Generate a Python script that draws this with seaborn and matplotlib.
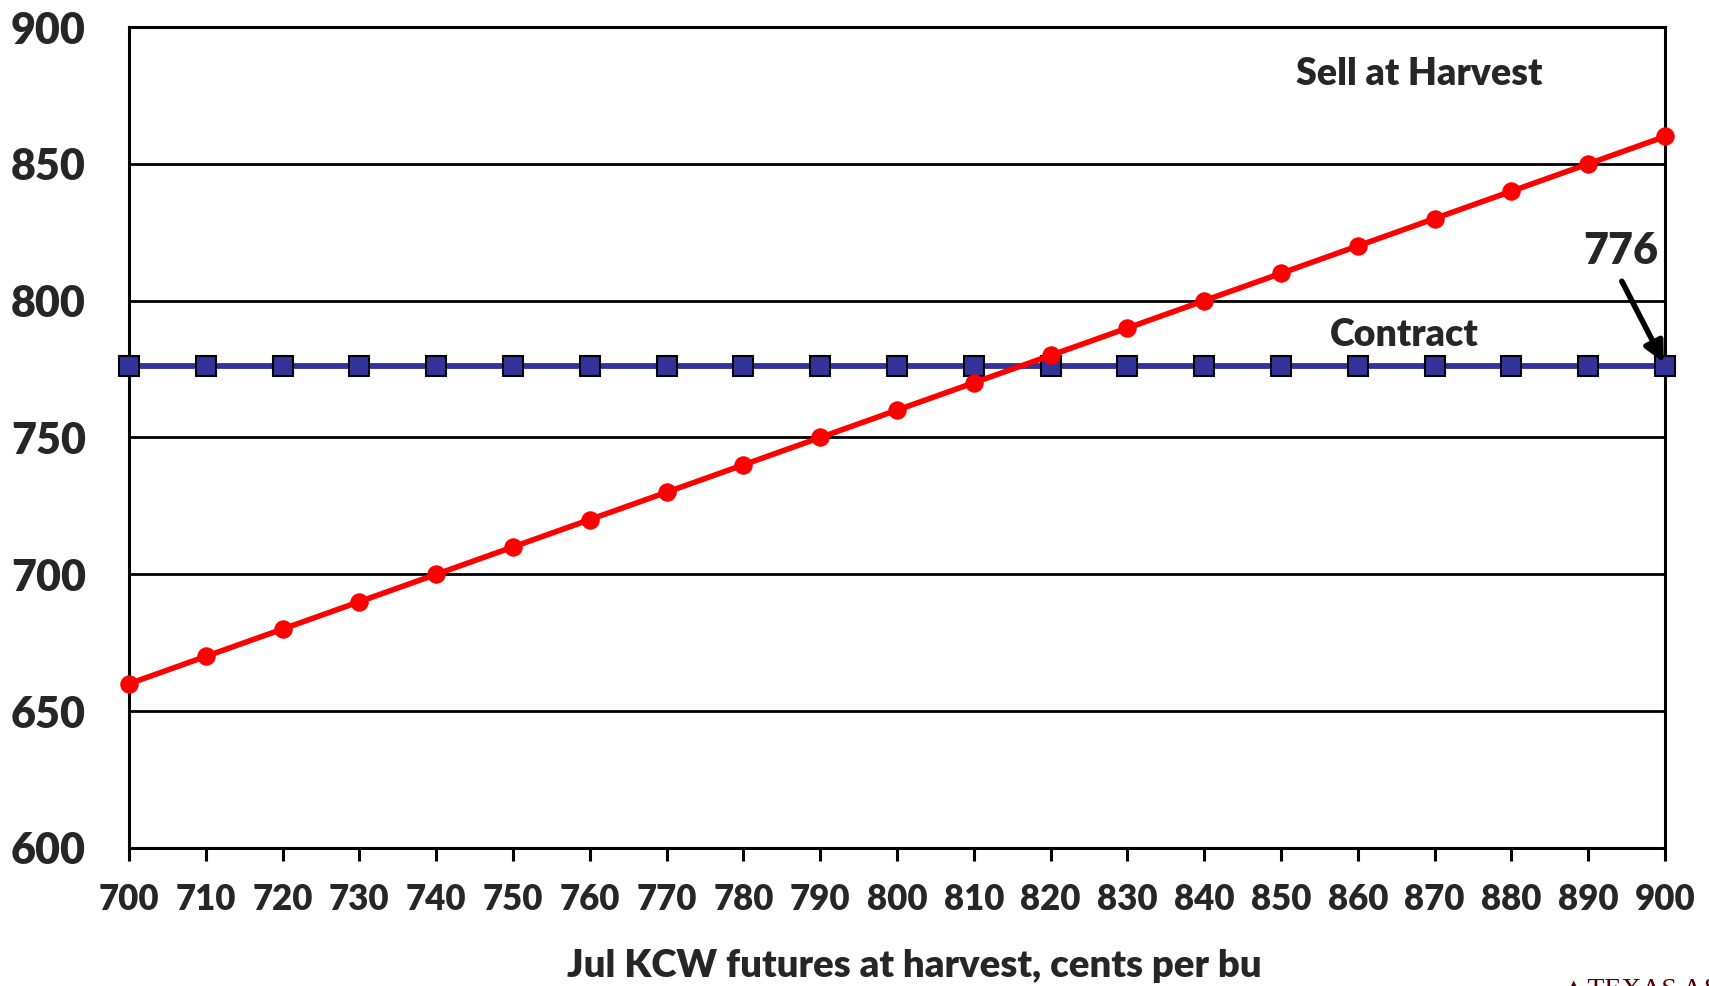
import pandas as pd
import matplotlib.pyplot as plt
import seaborn as sns

# Values
futures = [700, 710, 720, 730, 740, 750, 760, 770, 780, 790, 800,
           810, 820, 830, 840, 850, 860, 870, 880, 890, 900]
sell_at_harvest = [660, 670, 680, 690, 700, 710, 720, 730, 740, 750, 760,
                   770, 780, 790, 800, 810, 820, 830, 840, 850, 860]
contract = [776] * len(futures)

data = pd.DataFrame({'futures': futures, 'harvest': sell_at_harvest, 'contract': contract})

sns.set_style('white')
plt.rcParams['font.family'] = ['Lato', 'DejaVu Sans']
W = 'heavy'

fig = plt.figure(figsize=(17.09, 9.86), dpi=100)
ax = fig.add_axes([0.0755, 0.1400, 0.8988, 0.8326])

# horizontal grid
ax.set_yticks([600, 650, 700, 750, 800, 850, 900])
ax.yaxis.grid(True, color='black', linewidth=2)
ax.set_axisbelow(True)

sns.lineplot(data=data, x='futures', y='contract', ax=ax, color='#333399', linewidth=4.2,
             marker='s', markersize=15, markerfacecolor='#333399', markeredgecolor='black',
             markeredgewidth=1.5, clip_on=False, zorder=3)
sns.lineplot(data=data, x='futures', y='harvest', ax=ax, color='#ff0000', linewidth=4,
             marker='o', markersize=12.5, markerfacecolor='#ff0000', markeredgecolor='#ff0000',
             clip_on=False, zorder=4)

ax.set_xlim(700, 900)
ax.set_ylim(600, 900)
ax.set_xticks(futures)
ax.set_xlabel('')
ax.set_ylabel('')

for s in ax.spines.values():
    s.set_visible(True)
    s.set_color('black')
    s.set_linewidth(2.2)

ax.tick_params(axis='y', direction='out', length=11, width=2.2, color='black', labelsize=31, pad=20)
ax.tick_params(axis='x', direction='out', length=9, width=2.2, color='black', labelsize=25, pad=16,
               bottom=True)
for lab in ax.get_xticklabels() + ax.get_yticklabels():
    lab.set_fontweight(W)

ax.text(868, 883, 'Sell at Harvest', fontsize=27, fontweight=W, ha='center', va='center')
ax.text(866, 787.5, 'Contract', fontsize=27, fontweight=W, ha='center', va='center')
ax.text(894.2, 818, '776', fontsize=31, fontweight=W, ha='center', va='center')
ax.annotate('', xy=(900, 776.5), xytext=(894.2, 808),
            arrowprops=dict(arrowstyle='-|>', color='black', lw=4, mutation_scale=30),
            zorder=6, annotation_clip=False)

fig.text(0.535, 0.020, 'Jul KCW futures at harvest, cents per bu', fontsize=27.5,
         fontweight=W, ha='center', va='center')
fig.text(0.913, 0.008, '\u25b2TEXAS A&M', fontsize=20, color='#500000',
         family=['Liberation Serif', 'DejaVu Serif'], ha='left', va='top')

fig.savefig('out.png', dpi=100)
